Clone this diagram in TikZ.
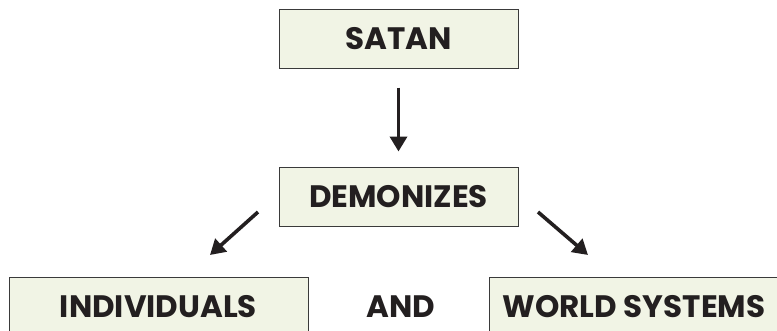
\documentclass[tikz,border=0pt]{standalone}
\usepackage{fontspec}
\setmainfont{Poppins}
\usetikzlibrary{arrows.meta}
\definecolor{boxfill}{HTML}{F1F4E5}
\definecolor{boxline}{HTML}{3A3A3A}
\definecolor{ink}{HTML}{231F20}

\begin{document}
\begin{tikzpicture}[
    x=1pt, y=-1pt,
    >={Triangle[length=15pt,width=17pt]},
    box/.style = {
      draw = boxline,
      fill = boxfill,
      line width = 1pt,
      rectangle,
      inner sep = 0pt,
      minimum height = 59pt,
      text = ink,
      font = \fontsize{31}{31}\selectfont\bfseries
    },
    link/.style = {
      ->,
      draw = ink,
      line width = 3.6pt
    }
  ]
  \useasboundingbox (0,0) rectangle (777,330);
  \clip (0,0) rectangle (777,330);

  \node[box, minimum width=239pt] (satan) at (398.5,38.5) {SATAN};
  \node[box, minimum width=239pt] (demonizes) at (398.5,196.5) {DEMONIZES};
  \node[box, minimum width=299pt] (individuals) at (158.5,306.5) {INDIVIDUALS};
  \node[box, minimum width=290pt] (world) at (634,306.5) {WORLD SYSTEMS};
  \node[text=ink, font=\fontsize{31}{31}\selectfont\bfseries] (and) at (401,306.5) {AND};

  \coordinate (lstart) at (258,212);
  \coordinate (lend) at (210,255);
  \coordinate (rstart) at (538,212);
  \coordinate (rend) at (588,255);

  \draw[link, shorten <=19pt, shorten >=15pt] (satan.south) -- (demonizes.north);
  \draw[link] (lstart) -- (lend);
  \draw[link] (rstart) -- (rend);
\end{tikzpicture}
\end{document}
